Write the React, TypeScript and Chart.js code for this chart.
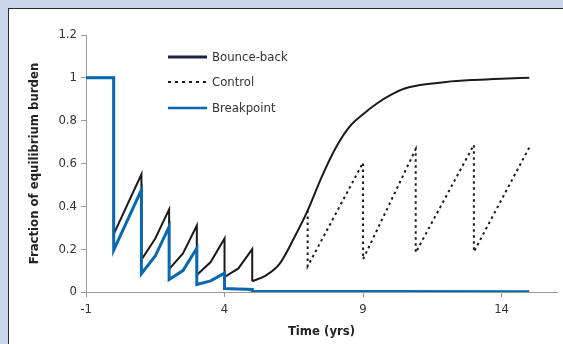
import React, { useEffect, useRef } from "react";
import { Chart, registerables } from "chart.js";

Chart.register(...registerables);

const bounceX = [-1, 0, 0, 1, 1, 1.5, 2, 2, 2.5, 3, 3, 3.5, 4, 4, 4.5, 5, 5, 5.5, 6, 6.5, 7, 7.5, 8, 8.5, 9, 9.5, 10, 10.5, 11, 12, 13, 14, 15];
const bounceY = [1, 1, 0.27, 0.55, 0.15, 0.25, 0.386, 0.107, 0.18, 0.31, 0.08, 0.14, 0.25, 0.07, 0.11, 0.2, 0.05, 0.078, 0.134, 0.25, 0.38, 0.535, 0.67, 0.77, 0.83, 0.88, 0.92, 0.95, 0.965, 0.981, 0.99, 0.996, 1.0];
// index where the smooth recovery (after the last treatment at year 5) begins
const recoveryStart = 16;

const controlX = [7, 7, 9, 9, 10.9, 10.9, 13, 13, 15];
const controlY = [0.38, 0.12, 0.604, 0.153, 0.667, 0.184, 0.687, 0.188, 0.675];

const breakX = [-1, 0, 0, 1, 1, 1.5, 2, 2, 2.5, 3, 3, 3.5, 4, 4, 5, 5, 15];
const breakY = [1, 1, 0.195, 0.477, 0.086, 0.168, 0.305, 0.058, 0.1, 0.204, 0.035, 0.052, 0.088, 0.016, 0.012, 0.004, 0.001];

const xTicks = [-1, 4, 9, 14];
const seriesNames = ["Bounce-back", "Control", "Breakpoint"];

const FONT = "'Liberation Sans Narrow', 'DejaVu Sans Condensed', 'Liberation Sans', sans-serif";
const BLACK = "#1a1a1a";
const BLUE = "#0a68b0";

const toPts = (xs: number[], ys: number[]) => xs.map((x, i) => ({ x, y: ys[i] }));

const legendPlugin = {
  id: "customLegend",
  afterDatasetsDraw(chart: any) {
    const ctx = chart.ctx;
    const items = [
      { label: seriesNames[0], color: "#1c2540", dash: [] as number[], width: 3 },
      { label: seriesNames[1], color: BLACK, dash: [3, 4], width: 2 },
      { label: seriesNames[2], color: BLUE, dash: [] as number[], width: 2.5 },
    ];
    const ys = [48, 73, 99];
    ctx.save();
    items.forEach((it, i) => {
      const y = ys[i];
      ctx.beginPath();
      ctx.setLineDash(it.dash);
      ctx.strokeStyle = it.color;
      ctx.lineWidth = it.width;
      ctx.moveTo(159, y);
      ctx.lineTo(198, y);
      ctx.stroke();
      ctx.setLineDash([]);
      ctx.fillStyle = "#333";
      ctx.font = `13px ${FONT}`;
      ctx.textBaseline = "middle";
      ctx.textAlign = "left";
      ctx.fillText(it.label, 203, y + 1);
    });
    ctx.restore();
  },
};

export default function App() {
  const ref = useRef<HTMLCanvasElement | null>(null);
  useEffect(() => {
    document.body.style.margin = "0";
    document.body.style.background = "#c9d5ea";
    document.body.style.overflow = "hidden";
    const bouncePts = toPts(bounceX, bounceY);
    const chart = new Chart(ref.current as HTMLCanvasElement, {
      type: "line",
      data: {
        datasets: [
          {
            label: seriesNames[2],
            data: toPts(breakX, breakY),
            borderColor: BLUE,
            borderWidth: 3,
            pointRadius: 0,
            tension: 0,
            order: 0,
          },
          {
            label: seriesNames[1],
            data: toPts(controlX, controlY),
            borderColor: BLACK,
            borderWidth: 2,
            borderDash: [2.5, 3.5],
            pointRadius: 0,
            tension: 0,
            order: 1,
          },
          {
            label: seriesNames[0],
            data: bouncePts.slice(0, recoveryStart + 1),
            borderColor: BLACK,
            borderWidth: 2,
            pointRadius: 0,
            tension: 0,
            order: 2,
          },
          {
            label: seriesNames[0] + " (recovery)",
            data: bouncePts.slice(recoveryStart),
            borderColor: BLACK,
            borderWidth: 2,
            pointRadius: 0,
            cubicInterpolationMode: "monotone",
            order: 2,
          },
        ],
      },
      options: {
        animation: false,
        responsive: true,
        maintainAspectRatio: false,
        layout: { padding: { top: 26, right: 6, left: 0, bottom: 0 } },
        plugins: { legend: { display: false }, tooltip: { enabled: false } },
        scales: {
          x: {
            type: "linear",
            min: -1,
            max: 16,
            afterBuildTicks: (s: any) => {
              s.ticks = xTicks.map((v) => ({ value: v }));
            },
            afterFit: (s: any) => {
              s.height = 52;
            },
            grid: { drawOnChartArea: false, drawTicks: true, tickLength: 5, color: "#999" },
            border: { color: "#999", width: 1 },
            ticks: { color: "#333", font: { family: FONT, size: 13 }, padding: 5, maxRotation: 0 },
            title: {
              display: true,
              text: "Time (yrs)",
              color: "#222",
              font: { family: FONT, size: 13, weight: "bold" },
              padding: { top: 4, bottom: 5 },
            },
          },
          y: {
            min: 0,
            max: 1.2,
            afterFit: (s: any) => {
              s.width = 77;
            },
            grid: { drawOnChartArea: false, drawTicks: true, tickLength: 5, color: "#999" },
            border: { color: "#999", width: 1 },
            ticks: {
              stepSize: 0.2,
              color: "#333",
              font: { family: FONT, size: 13 },
              padding: 4,
              callback: (v: any) => String(+Number(v).toFixed(1)),
            },
            title: {
              display: true,
              text: "Fraction of equilibrium burden",
              color: "#222",
              font: { family: FONT, size: 13, weight: "bold" },
              padding: { top: 18, bottom: 0 },
            },
          },
        },
      },
      plugins: [legendPlugin],
    } as any);
    return () => chart.destroy();
  }, []);
  return (
    <div
      style={{
        position: "absolute",
        left: 8,
        top: 8,
        width: 555,
        height: 336,
        boxSizing: "border-box",
        borderLeft: "1px solid #2a2a2a",
        borderTop: "1px solid #2a2a2a",
        background: "#fff",
      }}
    >
      <canvas ref={ref} />
    </div>
  );
}
